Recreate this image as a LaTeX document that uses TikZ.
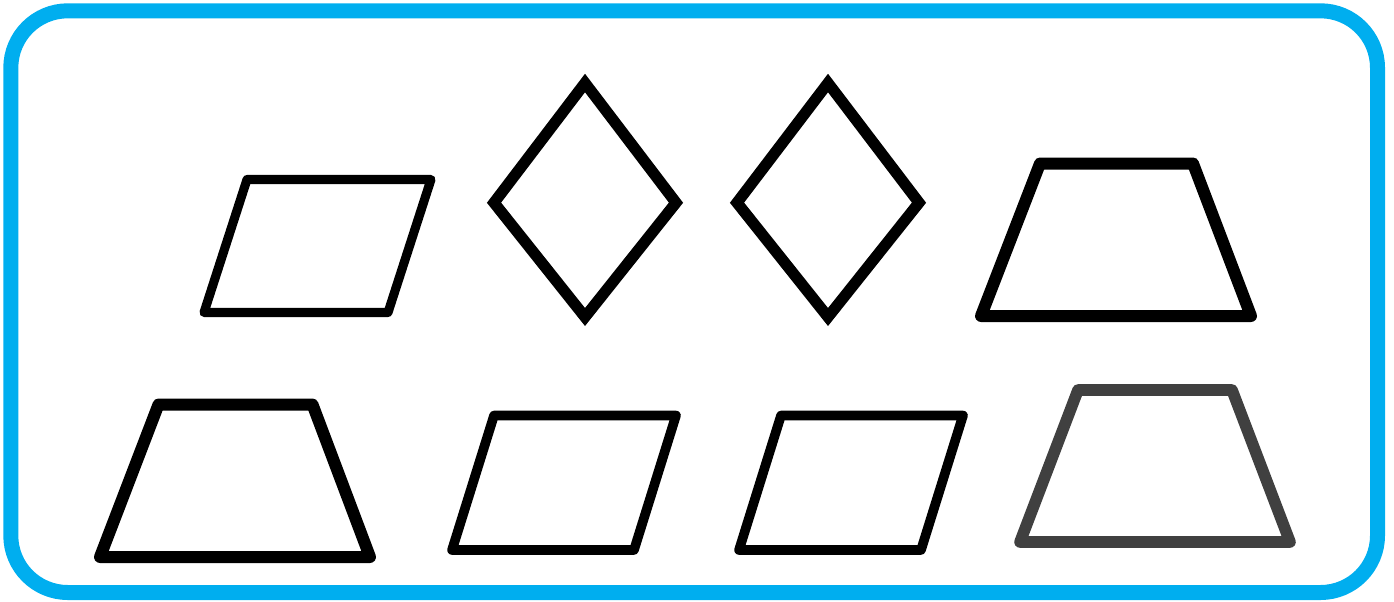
\documentclass[tikz,border=0pt]{standalone}
\usepackage{xcolor}
\definecolor{framecyan}{RGB}{0,174,239}
\definecolor{darkgreyline}{RGB}{64,64,64}
\tikzset{
  frameline/.style={draw=framecyan, line width=11.25pt, rounded corners=42.75pt},
  paraline/.style={draw=black, line width=7.2pt, line join=round},
  diamline/.style={draw=black, line width=8.4pt, line join=miter},
  trapline/.style={draw=black, line width=9pt, line join=round},
}
\begin{document}
\begin{tikzpicture}[x=0.75pt, y=-0.75pt]
  \useasboundingbox (0,0) rectangle (1394,601);
  % frame
  \draw[frameline] (10.8,10.8) rectangle (1377.5,592.5);
  % top row
  \draw[paraline, line width=6.8pt] (247,179.5) -- (431,179.5) -- (388,312.5) -- (204,312.5) -- cycle;
  \draw[diamline] (585,83) -- (676,202.7) -- (585,317) -- (494,202.7) -- cycle;
  \draw[diamline] (828,83) -- (919,202.7) -- (828,317) -- (737,202.7) -- cycle;
  \draw[trapline] (1040,163.5) -- (1193,163.5) -- (1251,316) -- (981,316) -- cycle;
  % bottom row
  \draw[trapline] (158.5,404.5) -- (312.5,404.5) -- (370,557) -- (100,557) -- cycle;
  \draw[paraline] (494,415.5) -- (676,415.5) -- (634,550) -- (452,550) -- cycle;
  \draw[paraline] (781,415.5) -- (963,415.5) -- (921,550) -- (739,550) -- cycle;
  \draw[trapline, draw=darkgreyline, line width=8.7pt] (1078,390) -- (1232,390) -- (1290,542) -- (1020,542) -- cycle;
\end{tikzpicture}
\end{document}
